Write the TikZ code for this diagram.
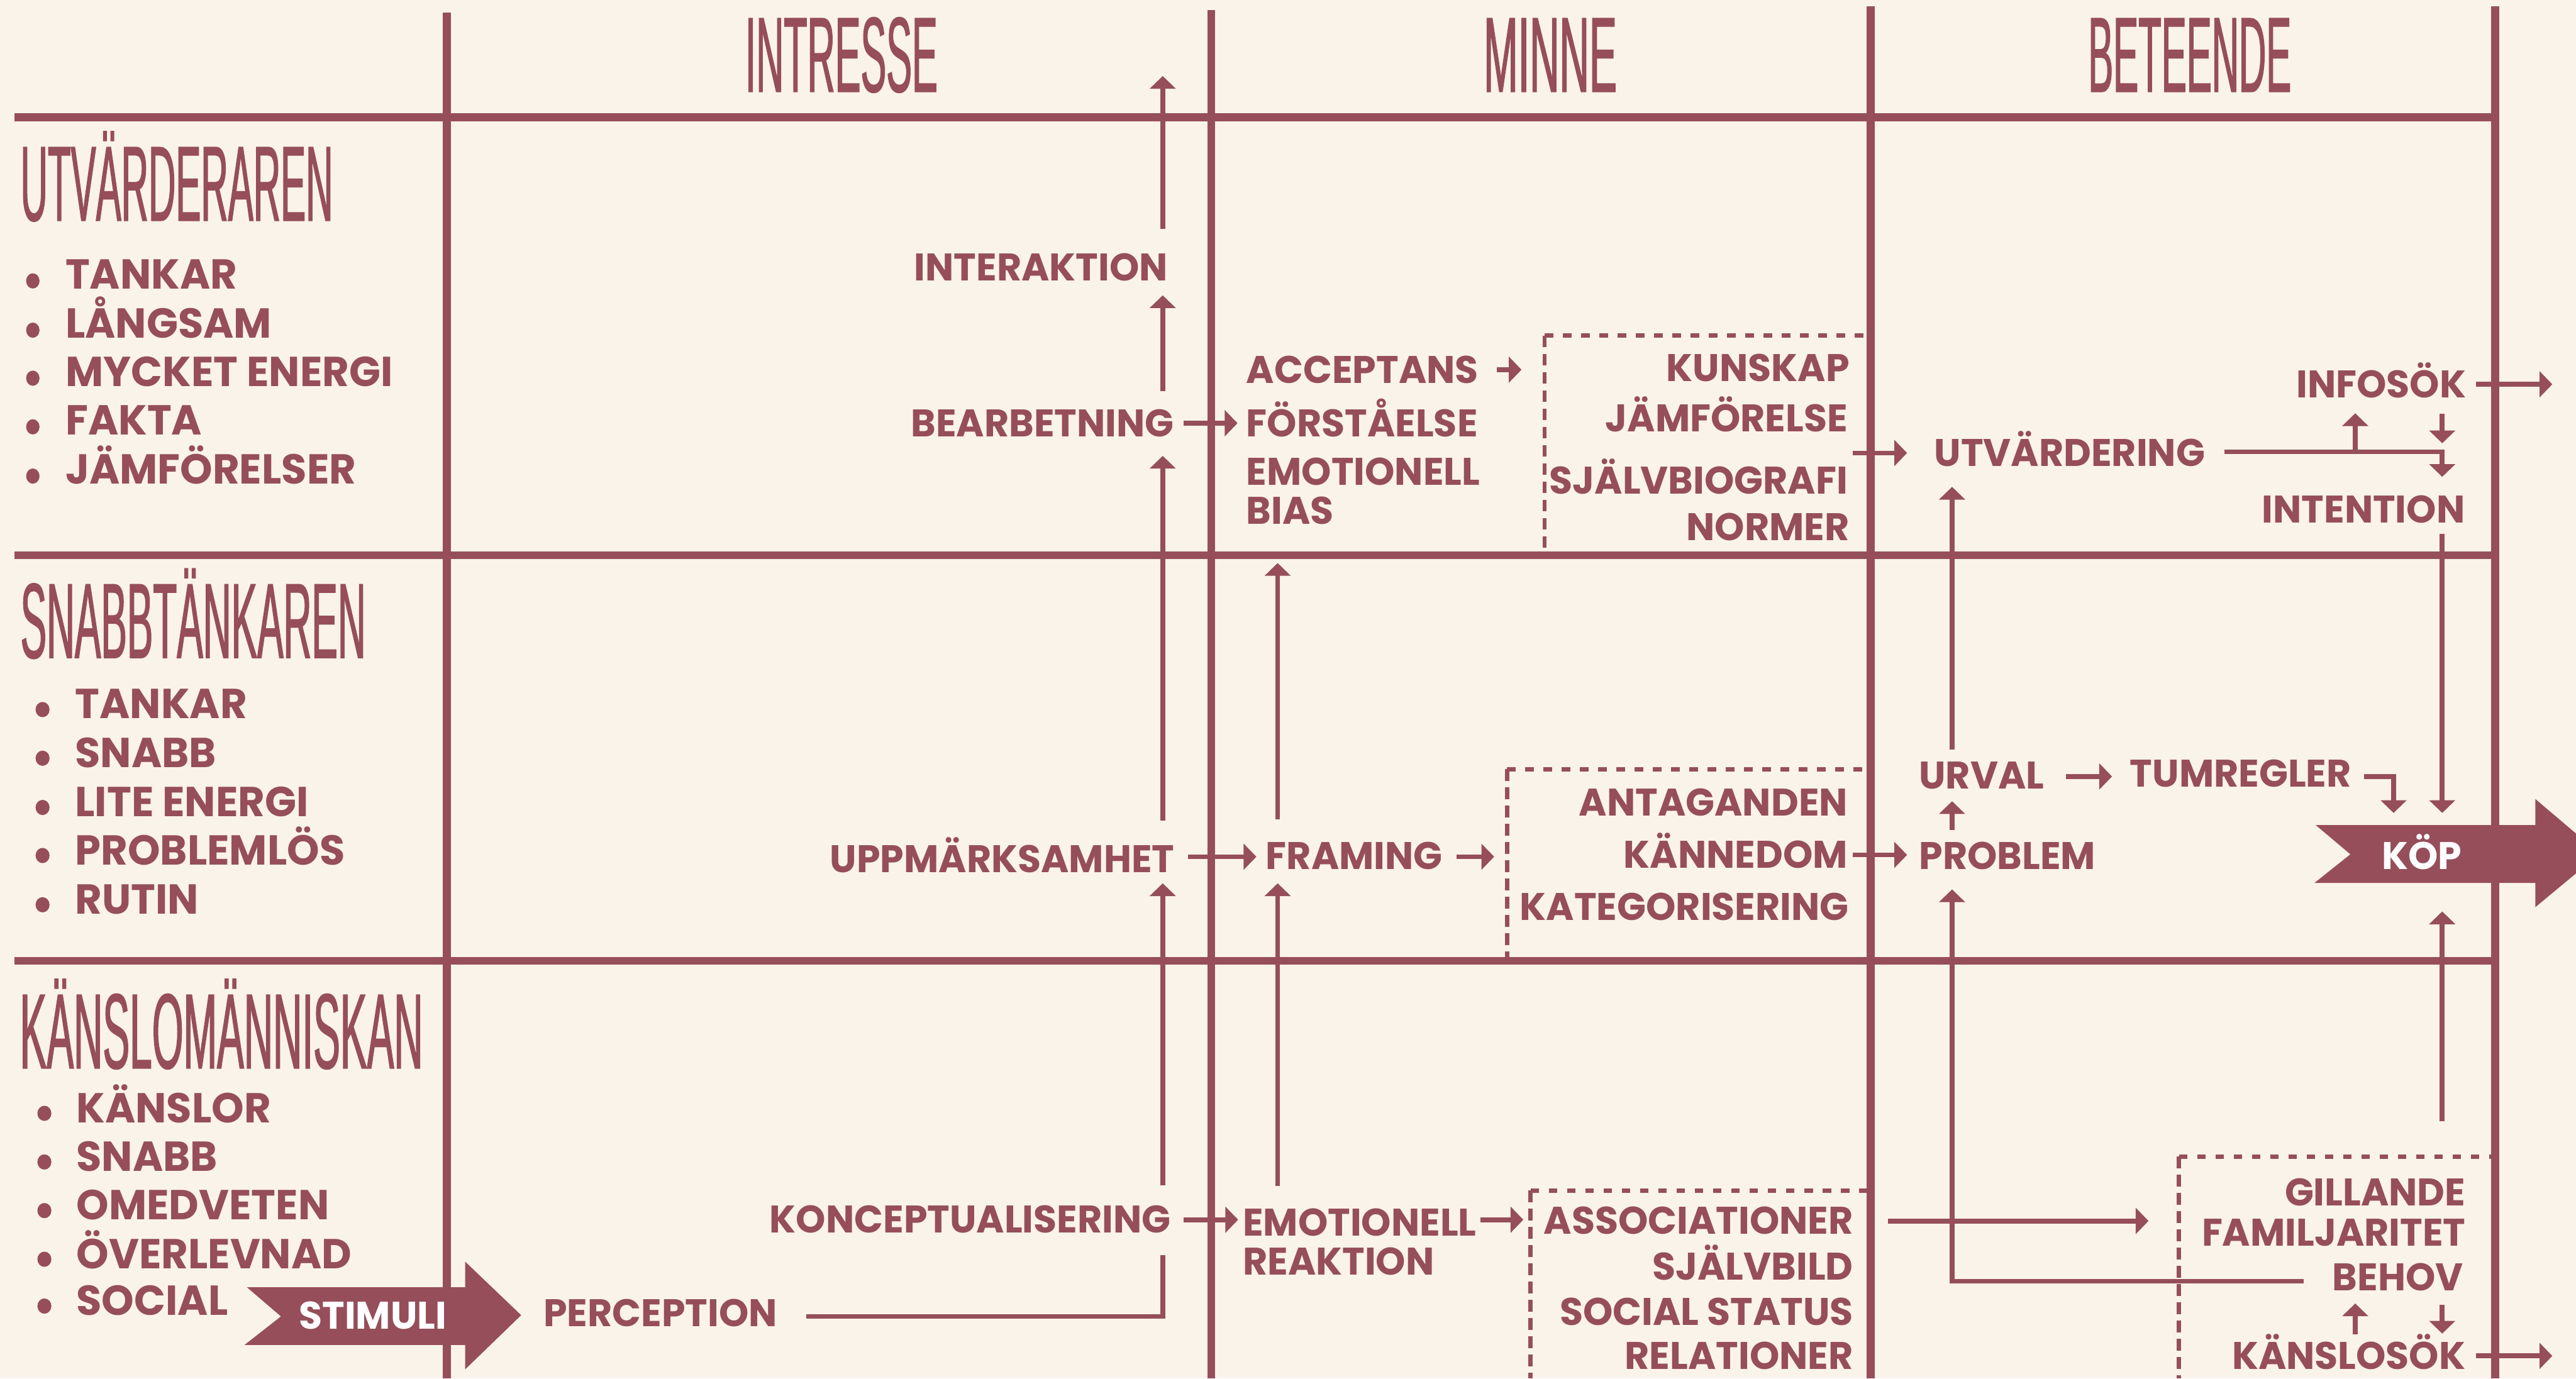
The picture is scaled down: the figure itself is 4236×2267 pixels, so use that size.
\documentclass[tikz,border=0pt]{standalone}
\usepackage{fontspec}
\usepackage{graphicx}
\usetikzlibrary{arrows.meta,calc}
\newfontfamily\labfont{Poppins}[FakeStretch=0.985]
\newfontfamily\ttlfont{Liberation Sans}[FakeStretch=0.36, FakeBold=0.8]
\definecolor{mar}{RGB}{150,78,90}
\definecolor{cream}{RGB}{250,243,234}
\newdimen\px \px=0.1mm
\newcommand\ttl[2]{\resizebox{#1\px}{\height}{\ttlfont\fontsize{50}{50}\selectfont #2}}
\tikzset{
  grid/.style={line width=1.3mm, draw=mar},
  conn/.style={line width=0.8mm, draw=mar},
  arr/.style={conn, -{Triangle[length=2.1mm,width=4.2mm]}},
  lab/.style={font=\labfont\bfseries\fontsize{18}{18.2}\selectfont, text=mar, inner sep=0pt, text height=4.4mm, text depth=0pt},
  labR/.style={lab, anchor=base east},
  labL/.style={lab, anchor=base west},
  labM/.style={font=\labfont\bfseries\fontsize{18}{18.2}\selectfont, text=mar, inner sep=0pt, align=left, anchor=base west},
  li/.style={font=\labfont\bfseries\fontsize{19.6}{20}\selectfont, text=mar, inner sep=0pt, anchor=base west},
  ttlnode/.style={anchor=base west, inner sep=0pt, text=mar},
  boxtop/.style={line width=0.7mm, draw=mar, dash pattern=on 1.4mm off 1.6mm},
  boxside/.style={line width=0.7mm, draw=mar, dash pattern=on 1.9mm off 1.1mm},
  bul/.style={fill=mar}
}
\begin{document}
\begin{tikzpicture}[x=0.1mm,y=-0.1mm]
\useasboundingbox (0,0) rectangle (4236,2267);
\fill[cream] (0,0) rectangle (4236,2267);

% reference coordinates
\coordinate (colA) at (1912,0);
\coordinate (colB) at (2101,0);
\coordinate (colC) at (3210,0);
\coordinate (colD) at (4016,0);
\coordinate (colE) at (3873,0);
\coordinate (colF) at (3936,0);
\coordinate (g3) at (3076,0);
\coordinate (hB) at (0,913);
\coordinate (topA) at (0,125);
\coordinate (kopT) at (3808,1357);
\coordinate (kopB) at (3806,1452);

% dashed boxes
\coordinate (bxU) at (2540,552);
\coordinate (bxS) at (2478,1265);
\coordinate (bxK) at (2517,1958);
\coordinate (bxB) at (3583,1902);
\draw[boxtop] (bxU) -- (3076,552);
\draw[boxside] (bxU) -- (2540,910);
\draw[boxtop] (bxS) -- (3076,1265);
\draw[boxside] (bxS) -- (2478,1580);
\draw[boxtop] (bxK) -- (3076,1958);
\draw[boxside] (bxK) -- (2517,2267);
\draw[boxtop] (bxB) -- (4103,1902);
\draw[boxside] (bxB) -- (3583,2267);

% grid
\draw[grid] (735,21) -- (735,2267);
\draw[grid] (1992,17) -- (1992,2267);
\draw[grid] (3076,10) -- (3076,2267);
\draw[grid] (4103,10) -- (4103,2267);
\draw[grid] (24,193) -- (4109.5,193);
\draw[grid] (24,913) -- (4109.5,913);
\draw[grid] (24,1580) -- (4109.5,1580);

% column headers
\node[ttlnode] (hInt) at (1225,151) {\ttl{316}{INTRESSE}};
\node[ttlnode] (hMin) at (2439,151) {\ttl{219}{MINNE}};
\node[ttlnode] (hBet) at (3433,151) {\ttl{334}{BETEENDE}};

% row titles
\node[ttlnode] (tU) at (33,363) {\ttl{514}{UTVÄRDERAREN}};
\node[ttlnode] (tS) at (33,1082) {\ttl{568}{SNABBTÄNKAREN}};
\node[ttlnode] (tK) at (32,1757) {\ttl{663}{KÄNSLOMÄNNISKAN}};

% lists
\node[li] (u1) at (107,475) {TANKAR};
\node[li] (u2) at (107,556) {LÅNGSAM};
\node[li] (u3) at (107,635) {MYCKET ENERGI};
\node[li] (u4) at (107,715) {FAKTA};
\node[li] (u5) at (107,796) {JÄMFÖRELSER};
\foreach \y in {475,556,635,715,796} \fill[bul] (54,\y-13) ellipse [x radius=11, y radius=12.5];
\node[li] (s1) at (123,1182) {TANKAR};
\node[li] (s2) at (123,1262) {SNABB};
\node[li] (s3) at (123,1343) {LITE ENERGI};
\node[li] (s4) at (123,1422) {PROBLEMLÖS};
\node[li] (s5) at (123,1503) {RUTIN};
\foreach \y in {1182,1262,1343,1422,1503} \fill[bul] (70,\y-15) ellipse [x radius=11.5, y radius=12.5];
\node[li] (k1) at (125,1846) {KÄNSLOR};
\node[li] (k2) at (125,1926) {SNABB};
\node[li] (k3) at (125,2006) {OMEDVETEN};
\node[li] (k4) at (125,2086) {ÖVERLEVNAD};
\node[li] (k5) at (125,2163) {SOCIAL};
\foreach \y in {1846,1926,2006,2086,2163} \fill[bul] (73,\y-15) ellipse [x radius=11.5, y radius=12.5];

% INTRESSE column
\node[labR] (interak) at (1921,462) {INTERAKTION};
\node[labR] (bearb) at (1931,718) {BEARBETNING};
\node[labR] (upp) at (1932,1435) {UPPMÄRKSAMHET};
\node[labR] (konc) at (1926,2028) {KONCEPTUALISERING};
\node[labL] (perc) at (893,2182) {PERCEPTION};

% MINNE column
\node[labL] (accept) at (2049,630) {ACCEPTANS};
\node[labL] (forst) at (2049,718) {FÖRSTÅELSE};
\node[labM] (emobias) at (2049,862) {EMOTIONELL\\BIAS};
\node[labR] (kunskap) at (3042,627) {KUNSKAP};
\node[labR] (jamf) at (3039,710) {JÄMFÖRELSE};
\node[labR] (sjbio) at (3039,812) {SJÄLVBIOGRAFI};
\node[labR] (normer) at (3042,889) {NORMER};
\node[labL] (fram) at (2081,1430) {FRAMING};
\node[labR] (antag) at (3039,1342) {ANTAGANDEN};
\node[labR] (kanned) at (3039,1428) {KÄNNEDOM};
\node[labR] (kateg) at (3041,1513) {KATEGORISERING};
\node[labM] (emorea) at (2043,2097) {EMOTIONELL\\REAKTION};
\node[labR] (assoc) at (3048,2030) {ASSOCIATIONER};
\node[labR] (sjbild) at (3048,2105) {SJÄLVBILD};
\node[labR] (socst) at (3048,2180) {SOCIAL STATUS};
\node[labR] (relat) at (3048,2252) {RELATIONER};

% BETEENDE column
\node[labL] (utvard) at (3180,767) {UTVÄRDERING};
\node[labR] (infosok) at (4056,654) {INFOSÖK};
\node[labR] (intent) at (4054,860) {INTENTION};
\node[labL] (urval) at (3155,1297) {URVAL};
\node[labL] (tum) at (3502,1294) {TUMREGLER};
\node[labL] (prob) at (3155,1430) {PROBLEM};
\node[labR] (gill) at (4055,1983) {GILLANDE};
\node[labR] (famil) at (4055,2049) {FAMILJARITET};
\node[labR] (behov) at (4051,2123) {BEHOV};
\node[labR] (kanslo) at (4055,2252) {KÄNSLOSÖK};

% connectors: INTRESSE
\draw[arr] ($(interak.north -| colA)+(0,-41)$) -- (colA |- topA);
\draw[arr] ($(bearb.north -| colA)+(0,-30)$) -- ($(interak.south -| colA)+(0,23)$);
\draw[arr] ($(upp.north -| colA)+(0,-41)$) -- ($(bearb.south -| colA)+(0,31)$);
\draw[arr] ($(konc.north -| colA)+(0,-34)$) -- ($(upp.south -| colA)+(0,17)$);
\draw[conn] ($(perc.east)+(47,5)$) -| ($(konc.south -| colA)+(0,36)$);

% connectors: MINNE
\draw[arr] ($(bearb.east)+(15,0)$) -- ($(bearb.east -| forst.west)+(-14,0)$);
\draw[arr] ($(accept.east)+(29,0)$) -- ($(accept.east -| bxU)+(-38,0)$);
\draw[arr] ($(upp.east)+(22,-4)$) -- ($(upp.east -| fram.west)+(-15,-4)$);
\draw[arr] ($(fram.east)+(22,1)$) -- ($(fram.east -| bxS)+(-21,1)$);
\draw[arr] ($(fram.north -| colB)+(0,-38)$) -- ($(hB -| colB)+(0,13)$);
\draw[arr] ($(konc.east -| colB)+(0,-56)$) -- ($(fram.south -| colB)+(0,22)$);
\draw[arr] ($(konc.east)+(20,0)$) -- ($(konc.east -| emorea.west)+(-7,0)$);
\draw[arr] ($(konc.east -| emorea.east)+(6,0)$) -- ($(konc.east -| bxK)+(-12,0)$);

% connectors: BETEENDE
\draw[arr] ($(utvard.west -| g3)+(-29,0)$) -- ($(utvard.west)+(-44,0)$);
\draw[arr] ($(utvard.east)+(31,-2)$) -| ($(intent.north -| colD)+(0,-31)$);
\draw[arr] ($(utvard.east -| colE)+(0,-2)$) -- ($(infosok.south -| colE)+(0,25)$);
\draw[arr] ($(infosok.south -| colD)+(0,26)$) -- ($(utvard.east -| colD)+(0,-16)$);
\draw[arr] ($(infosok.east)+(16,0)$) -- ($(infosok.east)+(141,0)$);
\draw[arr] ($(intent.south -| colD)+(0,17)$) -- ($(kopT -| colD)+(0,-20)$);
\draw[arr] ($(tum.east)+(20,5)$) -| ($(kopT -| colF)+(0,-20)$);
\draw[arr] ($(urval.east)+(35,2)$) -- ($(urval.east -| tum.west)+(-29,2)$);
\draw[arr] ($(prob.north -| colC)+(0,-20)$) -- ($(urval.south -| colC)+(0,20)$);
\draw[arr] ($(urval.north -| colC)+(0,-20)$) -- ($(utvard.south -| colC)+(0,33)$);
\draw[arr] ($(kanned.east -| g3)+(-29,0)$) -- ($(kanned.east -| prob.west)+(-19,0)$);
\draw[arr] ($(behov.west)+(-47,6)$) -| ($(prob.south -| colC)+(0,32)$);
\draw[arr] ($(gill.north -| colD)+(0,-94)$) -- ($(kopB -| colD)+(0,47)$);
\draw[arr] ($(assoc.east)+(57,0)$) -- ($(assoc.east -| bxB)+(-50,0)$);
\draw[arr] ($(behov.south -| colE)+(0,71)$) -- ($(behov.south -| colE)+(0,20)$);
\draw[arr] ($(behov.south -| colD)+(0,22)$) -- ($(kanslo.north -| colD)+(0,-14)$);
\draw[arr] ($(kanslo.east)+(17,0)$) -- ($(kanslo.east)+(142,0)$);

% STIMULI and KÖP arrows
\fill[mar] (406,2117) -- (765,2117) -- (765,2075) -- (857,2163) -- (765,2252) -- (765,2212) -- (402,2212) -- (462,2165) -- cycle;
\node[labL, text=white] (stim) at (491,2186) {STIMULI};
\fill[mar] (kopT) -- (4169,1357) -- (4169,1314) -- (4275,1404) -- (4169,1492) -- (4169,1452) -- (kopB) -- (3865,1405) -- cycle;
\node[labL, text=white] (kop) at (3916,1430) {KÖP};
\end{tikzpicture}
\end{document}
